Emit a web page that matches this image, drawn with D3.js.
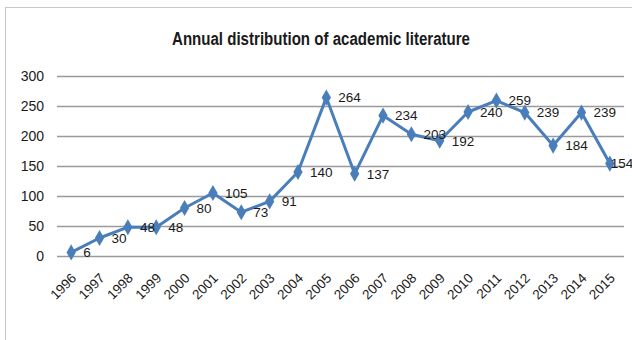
<!DOCTYPE html>
<html>
<head>
<meta charset="utf-8">
<script src="https://cdn.jsdelivr.net/npm/d3@7"></script>
<style>
  body { margin: 0; background: #fff; }
  svg { display: block; font-family: "Liberation Sans", Arial, sans-serif; }
</style>
</head>
<body>
<svg id="chart" width="632" height="340"></svg>
<script>
// data
const years = ["1996","1997","1998","1999","2000","2001","2002","2003","2004","2005",
               "2006","2007","2008","2009","2010","2011","2012","2013","2014","2015"];
const counts = [6, 30, 48, 48, 80, 105, 73, 91, 140, 264,
                137, 234, 203, 192, 240, 259, 239, 184, 239, 154];
const yTicks = [0, 50, 100, 150, 200, 250, 300];
const title = "Annual distribution of academic literature";

const svg = d3.select("#chart");
const width = 632, height = 340;
const margin = { top: 76, right: 8, bottom: 84, left: 57 };
const blue = "#4a7ebb";

// outer chart frame (runs off the right and bottom edge like the reference)
svg.append("rect")
   .attr("x", 5.5).attr("y", 7.5)
   .attr("width", 640).attr("height", 340)
   .attr("fill", "none")
   .attr("stroke", "#c8c8c8");

svg.append("text")
   .attr("x", 321).attr("y", 45)
   .attr("text-anchor", "middle")
   .attr("font-size", 17.5)
   .attr("font-weight", "bold")
   .attr("fill", "#1a1a1a")
   .attr("textLength", 298)
   .attr("lengthAdjust", "spacingAndGlyphs")
   .text(title);

const x = d3.scaleBand()
    .domain(years)
    .range([margin.left, width - margin.right]);

const y = d3.scaleLinear()
    .domain([0, 300])
    .range([height - margin.bottom, margin.top]);

// gridlines + y labels
const yAxis = svg.append("g")
    .attr("transform", `translate(${margin.left},0)`)
    .call(d3.axisLeft(y).tickValues(yTicks).tickSize(-(width - margin.left - margin.right)).tickPadding(13));
yAxis.select(".domain").remove();
yAxis.selectAll(".tick line").attr("stroke", "#9a9a9a").attr("stroke-width", 1.3);
yAxis.selectAll(".tick text")
     .attr("font-size", 14)
     .attr("fill", "#1a1a1a")
     .attr("font-family", "inherit");

// x labels, rotated
const xAxis = svg.append("g")
    .attr("transform", `translate(0,${y(0)})`)
    .call(d3.axisBottom(x).tickSize(0).tickPadding(0));
xAxis.select(".domain").remove();
xAxis.selectAll(".tick text")
     .attr("font-size", 13.5)
     .attr("fill", "#1a1a1a")
     .attr("font-family", "inherit")
     .attr("text-anchor", "end")
     .attr("dy", 0)
     .attr("transform", "translate(6,23) rotate(-45)");

const cx = d => x(d.year) + x.bandwidth() / 2;
const points = years.map((yr, i) => ({ year: yr, value: counts[i] }));

svg.append("path")
   .datum(points)
   .attr("fill", "none")
   .attr("stroke", blue)
   .attr("stroke-width", 3)
   .attr("stroke-linejoin", "round")
   .attr("d", d3.line().x(cx).y(d => y(d.value)));

svg.selectAll(".marker")
   .data(points)
   .enter().append("path")
   .attr("class", "marker")
   .attr("d", d3.symbol(d3.symbolDiamond, 75))
   .attr("transform", d => `translate(${cx(d)},${y(d.value)})`)
   .attr("fill", blue);

// value labels right of each point; the last one hugs its marker
svg.selectAll(".label")
   .data(points)
   .enter().append("text")
   .attr("class", "label")
   .attr("x", (d, i) => cx(d) + (i === points.length - 1 ? 1 : 12))
   .attr("y", d => y(d.value))
   .attr("dy", "0.35em")
   .attr("font-size", 13.5)
   .attr("fill", "#1a1a1a")
   .text(d => d.value);
</script>
</body>
</html>
